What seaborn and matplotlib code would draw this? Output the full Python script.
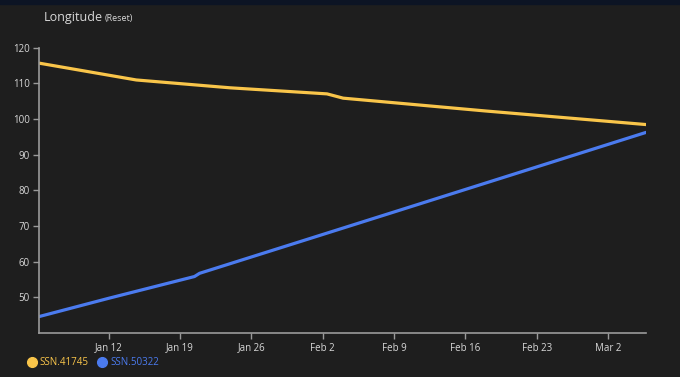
### IMPORTS
import pandas as pd
import matplotlib
matplotlib.use("Agg")
import matplotlib.pyplot as plt
from matplotlib.lines import Line2D
import seaborn as sns

### DATA
yellow_dates = ["2025-01-05 05:00", "2025-01-14 17:00", "2025-01-23 22:00",
                "2025-02-02 10:00", "2025-02-04 00:00", "2025-02-18 00:00",
                "2025-03-05 17:00"]
yellow_vals = [115.6, 110.9, 108.7, 107.0, 105.8, 102.2, 98.4]

blue_dates = ["2025-01-05 05:00", "2025-01-12 00:00", "2025-01-20 10:00",
              "2025-01-20 22:00", "2025-02-09 00:00", "2025-03-05 17:00"]
blue_vals = [44.6, 49.7, 55.8, 56.7, 73.9, 96.2]

series_names = ["SSN.41745", "SSN.50322"]
colors = ["#f9c54a", "#4b7bef"]
tick_dates = ["2025-01-12", "2025-01-19", "2025-01-26", "2025-02-02",
              "2025-02-09", "2025-02-16", "2025-02-23", "2025-03-02"]
tick_labels = ["Jan 12", "Jan 19", "Jan 26", "Feb 2", "Feb 9", "Feb 16", "Feb 23", "Mar 2"]
y_ticks = [50, 60, 70, 80, 90, 100, 110, 120]

df = pd.concat([
    pd.DataFrame({"date": pd.to_datetime(yellow_dates), "value": yellow_vals, "series": series_names[0]}),
    pd.DataFrame({"date": pd.to_datetime(blue_dates), "value": blue_vals, "series": series_names[1]}),
])

### STYLE
bg = "#1e1e1e"
txt = "#d8d8d8"
sns.set_style("dark")
plt.rcParams["font.family"] = ["Open Sans", "DejaVu Sans"]

fig = plt.figure(figsize=(6.8, 3.77), dpi=100, facecolor=bg)
ax = fig.add_axes([0.058, 0.117, 0.892, 0.757])
ax.set_facecolor(bg)

sns.lineplot(data=df, x="date", y="value", hue="series", palette=colors,
             linewidth=2.3, ax=ax, legend=False)

### AXES
ax.set_xlim(pd.Timestamp("2025-01-05 05:00"), pd.Timestamp("2025-03-05 17:00"))
ax.set_ylim(40, 120)
ax.set_xticks(pd.to_datetime(tick_dates))
ax.set_xticklabels(tick_labels)
ax.set_yticks(y_ticks)
ax.set_xlabel("")
ax.set_ylabel("")
ax.grid(False)
for s in ["top", "right"]:
    ax.spines[s].set_visible(False)
for s in ["left", "bottom"]:
    ax.spines[s].set_visible(True)
    ax.spines[s].set_color("#9a9a9a")
    ax.spines[s].set_linewidth(1.2)
ax.tick_params(axis="both", colors="#9a9a9a", labelcolor=txt, labelsize=7,
               length=4, width=1, direction="out", bottom=True, left=True, pad=3)

### TITLE
fig.patches.append(plt.Rectangle((0, 0.99), 1, 0.01, transform=fig.transFigure,
                                 color="#0c1424", zorder=0))
t1 = fig.text(0.064, 0.945, "Longitude", color=txt, fontsize=9, ha="left", va="baseline")
fig.canvas.draw()
bb = t1.get_window_extent()
fig.text((bb.x1 + 2) / fig.bbox.width, 0.945, "(Reset)", color=txt, fontsize=6.5,
         ha="left", va="baseline")

### LEGEND
handles = [Line2D([], [], marker="o", linestyle="", markersize=7, color=c) for c in colors]
leg = fig.legend(handles, series_names, loc="lower left", bbox_to_anchor=(0.027, 0.0),
                 ncol=2, frameon=False, fontsize=7, handletextpad=0.3,
                 columnspacing=0.9, handlelength=1.0)
for t, c in zip(leg.get_texts(), colors):
    t.set_color(c)

plt.savefig("out.png", dpi=100, facecolor=bg)
